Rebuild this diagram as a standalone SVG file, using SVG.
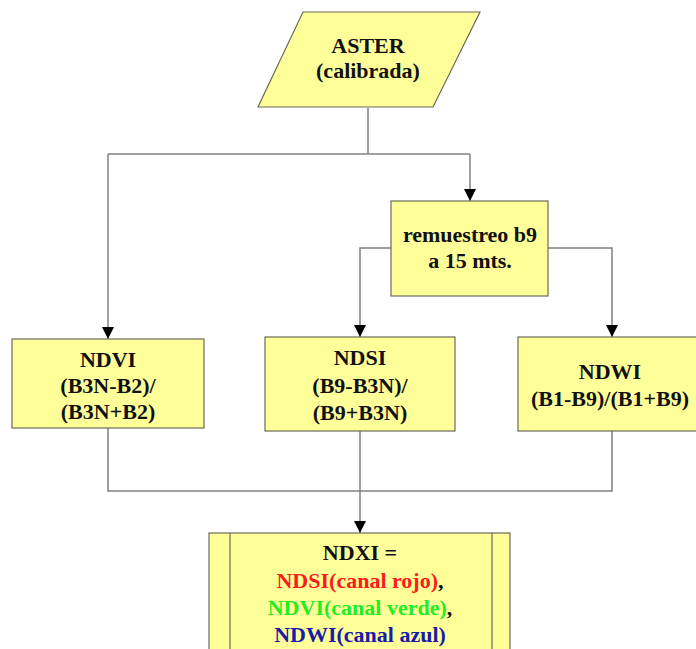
<svg xmlns="http://www.w3.org/2000/svg" width="696" height="649" viewBox="0 0 696 649">
<defs>
<marker id="arr" markerWidth="12" markerHeight="12" refX="12" refY="6" orient="auto" markerUnits="userSpaceOnUse">
<path d="M0,0 L12,6 L0,12 Z" fill="#000"/>
</marker>
<style>
.box{fill:#FFFF99;stroke:#6b6b5a;stroke-width:1.2}
.ln{fill:none;stroke:#808080;stroke-width:1.5}
.t{font-family:"Liberation Serif","Times New Roman",serif;font-weight:bold;font-size:22px;text-anchor:middle;fill:#111}
</style>
</defs>
<rect width="696" height="649" fill="#fff"/>
<g id="connectors">
<path class="ln" d="M368,108 V154"/>
<path class="ln" d="M108,154 H470"/>
<path class="ln" d="M108,154 V339" marker-end="url(#arr)"/>
<path class="ln" d="M470,154 V201" marker-end="url(#arr)"/>
<path class="ln" d="M391,248 H360 V337" marker-end="url(#arr)"/>
<path class="ln" d="M548,248 H612 V337" marker-end="url(#arr)"/>
<path class="ln" d="M108,428 V491 H612 V431"/>
<path class="ln" d="M360,431 V533" marker-end="url(#arr)"/>
</g>
<g id="aster">
<polygon class="box" points="303,12 480,12 433,107 258,107"/>
<text class="t" x="368" y="53">ASTER</text>
<text class="t" x="368" y="78">(calibrada)</text>
</g>
<g id="remuestreo">
<rect class="box" x="391" y="201" width="157" height="95"/>
<text class="t" x="470" y="242">remuestreo b9</text>
<text class="t" x="470" y="268">a 15 mts.</text>
</g>
<g id="ndvi">
<rect class="box" x="12" y="339" width="192" height="89"/>
<text class="t" x="108" y="367">NDVI</text>
<text class="t" x="108" y="393">(B3N-B2)/</text>
<text class="t" x="108" y="419">(B3N+B2)</text>
</g>
<g id="ndsi">
<rect class="box" x="265" y="337" width="190" height="94"/>
<text class="t" x="360" y="365">NDSI</text>
<text class="t" x="360" y="393">(B9-B3N)/</text>
<text class="t" x="360" y="420">(B9+B3N)</text>
</g>
<g id="ndwi">
<rect class="box" x="518" y="337" width="180" height="94"/>
<text class="t" x="610" y="379">NDWI</text>
<text class="t" x="610" y="406">(B1-B9)/(B1+B9)</text>
</g>
<g id="ndxi">
<rect class="box" x="209" y="533" width="301" height="130"/>
<path class="ln" d="M230,533 V663 M492,533 V663" style="stroke:#6b6b5a;stroke-width:1.2"/>
<text class="t" x="360" y="560">NDXI =</text>
<text class="t" x="360" y="588"><tspan fill="#FF1A1A">NDSI(canal rojo)</tspan>,</text>
<text class="t" x="360" y="615"><tspan fill="#22EE22">NDVI(canal verde)</tspan>,</text>
<text class="t" x="360" y="642"><tspan fill="#1A1AAA">NDWI(canal azul)</tspan></text>
</g>
</svg>
